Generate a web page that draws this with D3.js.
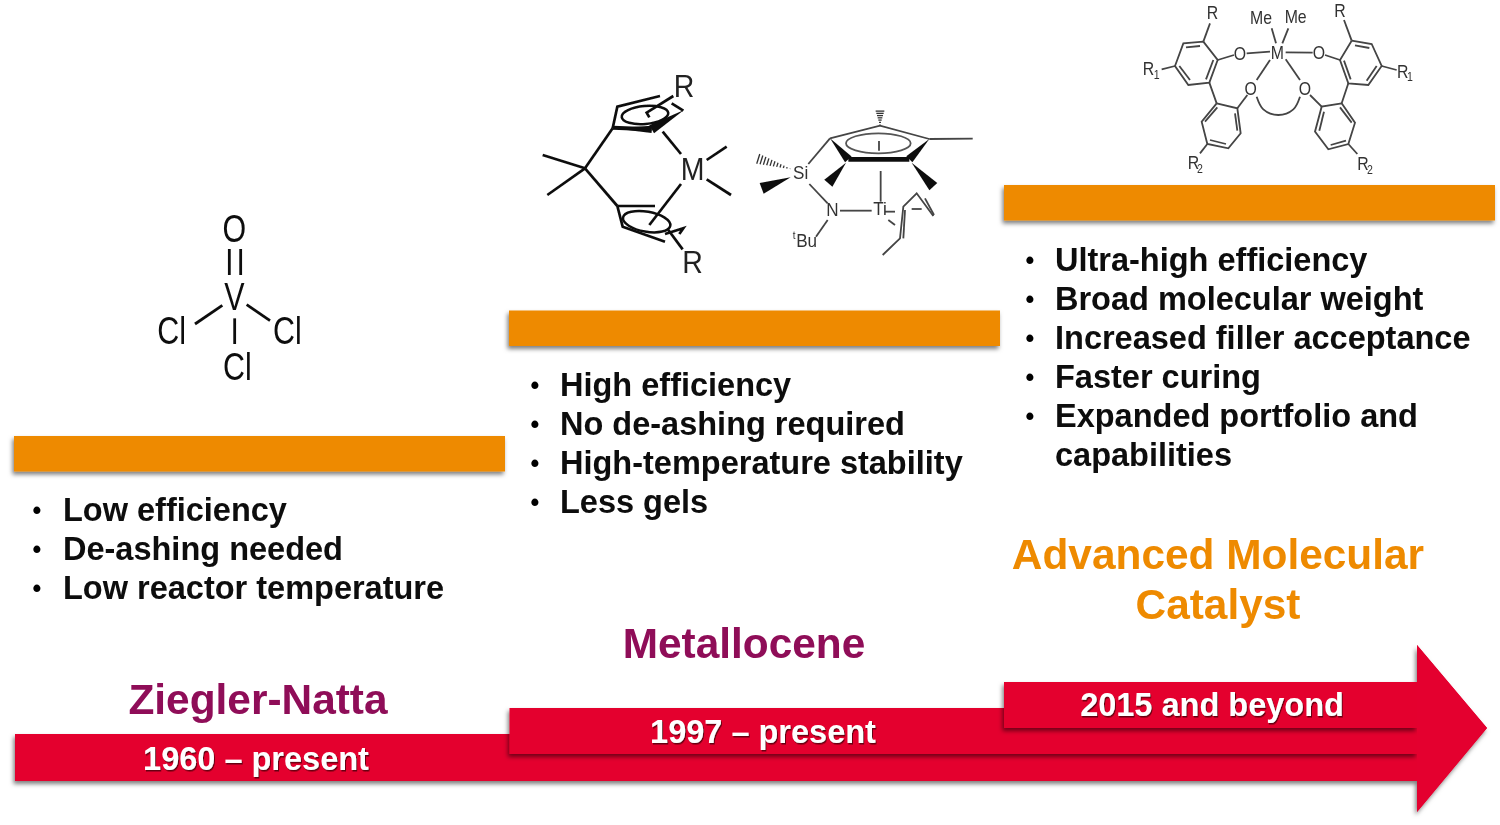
<!doctype html>
<html lang="en">
<head>
<meta charset="utf-8">
<title>Catalyst timeline</title>
<style>
  html, body { margin: 0; padding: 0; background: #fff; }
  svg { display: block; font-family: "Liberation Sans", Arial, sans-serif; }
</style>
</head>
<body>
<svg id="chart"></svg>
<script src="https://d3js.org/d3.v7.min.js"></script>
<script>
var width = 1500;
var height = 825;

// timeline content
var eraNames = [["Ziegler-Natta"], ["Metallocene"], ["Advanced Molecular", "Catalyst"]];
var eraYears = ["1960 – present", "1997 – present", "2015 and beyond"];
var eraPoints = [
  ["Low efficiency", "De-ashing needed", "Low reactor temperature"],
  ["High efficiency", "No de-ashing required", "High-temperature stability", "Less gels"],
  ["Ultra-high efficiency", "Broad molecular weight", "Increased filler acceptance", "Faster curing", ["Expanded portfolio and", "capabilities"]]
];

var svg = d3.select("#chart").attr("width", width).attr("height", height);
var defs = svg.append("defs");

function shadow(id, dx, dy, blur, op) {
  var f = defs.append("filter").attr("id", id)
    .attr("x", "-5%").attr("y", "-30%").attr("width", "110%").attr("height", "170%");
  f.append("feDropShadow").attr("dx", dx).attr("dy", dy)
    .attr("stdDeviation", blur).attr("flood-color", "#000").attr("flood-opacity", op);
}
shadow("barShadow", -1.5, 3, 2.2, 0.5);
shadow("ribbonShadow", -1.5, 3, 2.2, 0.5);
defs.append("filter").attr("id", "textShadow")
  .attr("x", "-5%").attr("y", "-20%").attr("width", "110%").attr("height", "150%")
  .append("feDropShadow").attr("dx", 1).attr("dy", 1.5).attr("stdDeviation", 0.7)
  .attr("flood-color", "#5a0010").attr("flood-opacity", 0.9);
defs.append("filter").attr("id", "soft")
  .append("feGaussianBlur").attr("stdDeviation", 0.45);

var eraIndex = d3.range(3);

// step positions, all of them linear in the era number
var barX = d3.scaleLinear().domain([0, 2]).range([14, 1004]);
var barY = d3.scaleLinear().domain([0, 2]).range([436, 185]);
var ribbonX = d3.scaleLinear().domain([0, 2]).range([15, 1004]);
var ribbonY = d3.scaleLinear().domain([0, 2]).range([734, 682]);
var textY = d3.scaleLinear().domain([0, 2]).range([520.5, 270.5]);
var textX = [63, 560, 1055];
var dotX = [37, 535, 1030];
var barW = 491, barH = 35.5, ribbonH = 47;
var arrowX = 1417, arrowTip = 1487, arrowTop = 645, arrowBottom = 812;
var lineStep = 39;

// red stepped arrow
var red = "#e4002f";
var arrowLine = d3.line();
var baseTop = ribbonY(0), baseBottom = baseTop + ribbonH;
svg.append("path")
  .attr("d", arrowLine([
    [ribbonX(0), baseTop], [arrowX, baseTop], [arrowX, arrowTop], [arrowTip, ribbonY(2) + ribbonH - 1],
    [arrowX, arrowBottom], [arrowX, baseBottom], [ribbonX(0), baseBottom]
  ]) + "Z")
  .attr("fill", red)
  .attr("filter", "url(#ribbonShadow)");

svg.selectAll("rect.step").data([1, 2]).enter().append("rect")
  .attr("class", "step")
  .attr("x", function(d) { return ribbonX(d); })
  .attr("y", function(d) { return ribbonY(d); })
  .attr("width", function(d) { return arrowX - ribbonX(d); })
  .attr("height", ribbonH - 1)
  .attr("fill", red)
  .attr("filter", "url(#ribbonShadow)");

// arrow head on top so the step shadows stop at its base
svg.append("path")
  .attr("d", arrowLine([[arrowX, arrowTop], [arrowTip, ribbonY(2) + ribbonH - 1], [arrowX, arrowBottom]]) + "Z")
  .attr("fill", red);

// orange bars
svg.selectAll("rect.bar").data(eraIndex).enter().append("rect")
  .attr("class", "bar")
  .attr("x", function(d) { return barX(d); })
  .attr("y", function(d) { return barY(d); })
  .attr("width", barW)
  .attr("height", barH)
  .attr("fill", "#ee8a03")
  .attr("filter", "url(#barShadow)");

// bullet lists
var content = svg.append("g").attr("filter", "url(#soft)");
eraIndex.forEach(function(i) {
  var row = 0;
  eraPoints[i].forEach(function(p) {
    var lines = typeof p === "string" ? [p] : p;
    content.append("text")
      .attr("x", dotX[i]).attr("y", textY(i) + row * lineStep - 2)
      .attr("text-anchor", "middle")
      .attr("font-size", 25).attr("font-weight", "bold").attr("fill", "#000")
      .text("•");
    lines.forEach(function(t) {
      content.append("text")
        .attr("x", textX[i]).attr("y", textY(i) + row * lineStep)
        .attr("font-size", 32.5).attr("font-weight", "bold").attr("fill", "#0a0a0a")
        .text(t);
      row++;
    });
  });
});

// era names and years
var nameColor = ["#8f0b58", "#8f0b58", "#ee8a03"];
var nameX = [258, 744, 1218];
var nameY = [714, 658, 569];
var yearX = [256, 763, 1212];
var yearY = [770, 743, 716];
eraIndex.forEach(function(i) {
  eraNames[i].forEach(function(t, k) {
    content.append("text")
      .attr("x", nameX[i]).attr("y", nameY[i] + k * 50)
      .attr("text-anchor", "middle")
      .attr("font-size", 42.4).attr("font-weight", "bold")
      .attr("fill", nameColor[i])
      .text(t);
  });
});
svg.selectAll("text.year").data(eraYears).enter().append("text")
  .attr("class", "year")
  .attr("x", function(d, i) { return yearX[i]; })
  .attr("y", function(d, i) { return yearY[i]; })
  .attr("text-anchor", "middle")
  .attr("font-size", 32.5).attr("font-weight", "bold")
  .attr("fill", "#fff")
  .attr("filter", "url(#textShadow)")
  .text(function(d) { return d; });

// structure drawings: each one has its own scale from drawing units to the page
function structure(x0, y0) {
  var sx = d3.scaleLinear().domain([0, 3]).range([x0, x0 + 1]);
  var sy = d3.scaleLinear().domain([0, 3]).range([y0, y0 + 1]);
  var g = content.append("g");
  var pen = d3.line().x(function(p) { return sx(p[0]); }).y(function(p) { return sy(p[1]); });
  return {
    lines: function(list, color, w) {
      g.selectAll(null).data(list).enter().append("path")
        .attr("d", pen).attr("fill", "none")
        .attr("stroke", color).attr("stroke-width", w);
    },
    wedges: function(list, color) {
      // from a point to a base, given as [x1, y1, x2, y2, half width]
      g.selectAll(null).data(list).enter().append("path")
        .attr("d", function(d) {
          var dx = d[2] - d[0], dy = d[3] - d[1], len = Math.hypot(dx, dy);
          var nx = -dy / len * d[4], ny = dx / len * d[4];
          return pen([[d[0], d[1]], [d[2] + nx, d[3] + ny], [d[2] - nx, d[3] - ny]]) + "Z";
        })
        .attr("fill", color);
    },
    hash: function(list, color) {
      list.forEach(function(d) {
        var dx = d[2] - d[0], dy = d[3] - d[1], len = Math.hypot(dx, dy);
        var nx = -dy / len, ny = dx / len;
        d3.range(d[5]).forEach(function(k) {
          var t = (k + 0.5) / d[5], w = d[4] * t;
          var cx = d[0] + dx * t, cy = d[1] + dy * t;
          g.append("path")
            .attr("d", pen([[cx + nx * w, cy + ny * w], [cx - nx * w, cy - ny * w]]))
            .attr("stroke", color).attr("stroke-width", 1.3);
        });
      });
    },
    rings: function(list, color, w) {
      g.selectAll(null).data(list).enter().append("ellipse")
        .attr("cx", function(d) { return sx(d[0]); })
        .attr("cy", function(d) { return sy(d[1]); })
        .attr("rx", function(d) { return d[2] / 3; })
        .attr("ry", function(d) { return d[3] / 3; })
        .attr("transform", function(d) { return "rotate(" + d[4] + " " + sx(d[0]) + " " + sy(d[1]) + ")"; })
        .attr("fill", "none").attr("stroke", color).attr("stroke-width", w);
    },
    labels: function(list, color, size, squeeze) {
      g.selectAll(null).data(list).enter().append("text")
        .attr("transform", function(d) {
          return "translate(" + sx(d[1]) + "," + sy(d[2]) + ") scale(" + squeeze + ",1)";
        })
        .attr("text-anchor", "middle")
        .attr("font-size", function(d) { return d[3] || size; })
        .attr("fill", color)
        .text(function(d) { return d[0]; });
    }
  };
}

// vanadium oxychloride
var voc = structure(140, 200);
voc.lines([
  [[268, 147], [268, 225]], [[302, 147], [302, 225]],
  [[247, 316], [165, 372]], [[320, 314], [390, 362]], [[284, 355], [284, 432]]
], "#111", 2.8);
voc.labels([["O", 283, 125], ["V", 283, 330], ["Cl", 95, 433], ["Cl", 442, 433], ["Cl", 292, 540]], "#111", 38, 0.8);

// metallocene, left
var cp = structure(530, 60);
cp.lines([
  [[165, 325], [38, 285]], [[165, 325], [52, 405]], [[165, 325], [248, 205]], [[165, 325], [262, 438]],
  [[248, 205], [262, 140], [390, 108]],
  [[460, 152], [425, 130]], [[358, 172], [350, 158], [430, 108]],
  [[398, 215], [453, 282]], [[530, 300], [590, 260]], [[530, 358], [603, 405]],
  [[453, 372], [358, 495]], [[262, 438], [375, 438]], [[262, 438], [278, 500], [405, 545]],
  [[405, 522], [460, 505], [448, 522]], [[415, 510], [458, 568]]
], "#111", 2.7);
cp.wedges([[462, 150, 365, 208, 14], [248, 205, 365, 208, 11]], "#111");
cp.lines([[[248, 203], [365, 208]]], "#111", 4);
cp.rings([[345, 165, 70, 27, -5], [350, 485, 72, 30, 10]], "#111", 2.5);
cp.labels([["R", 462, 110], ["M", 488, 360], ["R", 488, 640]], "#222", 31, 0.92);

// constrained geometry, right
var cg = structure(530, 60);
cg.lines([
  [[900, 235], [1050, 197], [1198, 237]], [[1198, 237], [1328, 236]], [[1047, 243], [1047, 272]],
  [[900, 235], [835, 312]], [[838, 372], [893, 430]], [[930, 452], [1025, 452]],
  [[1052, 333], [1052, 425]], [[893, 480], [858, 530]], [[1065, 455], [1095, 455]], [[1075, 480], [1095, 495]],
  [[1058, 585], [1110, 535], [1120, 440], [1160, 400], [1210, 468]],
  [[1125, 450], [1120, 535]], [[1185, 415], [1212, 465]], [[1145, 447], [1175, 447]]
], "#444", 1.8);
cg.lines([[[955, 298], [1138, 298]]], "#111", 4.6);
cg.wedges([
  [900, 235, 955, 298, 13], [1198, 237, 1138, 298, 13],
  [948, 308, 895, 370, 16], [1145, 308, 1210, 380, 16],
  [782, 352, 695, 385, 17]
], "#111");
cg.hash([[1050, 197, 1050, 150, 14, 7], [785, 328, 680, 295, 16, 11]], "#333");
cg.rings([[1045, 250, 97, 30, 0]], "#555", 1.8);
cg.labels([
  ["Si", 812, 358], ["N", 907, 468], ["Ti", 1050, 464], ["Bu", 830, 562], ["t", 792, 536, 11]
], "#333", 19, 0.9);

// advanced molecular catalyst
var amc = structure(1120, 0);
amc.lines([
  [[250, 125], [190, 130], [165, 198], [205, 255], [268, 248], [293, 180], [250, 125]],
  [[240, 138], [198, 142]], [[178, 198], [210, 240]], [[258, 238], [280, 180]],
  [[250, 125], [270, 70]], [[165, 198], [125, 208]], [[293, 180], [342, 165]], [[380, 160], [450, 155]],
  [[268, 248], [290, 310]],
  [[290, 310], [352, 325], [362, 400], [325, 445], [262, 432], [245, 365], [290, 310]],
  [[345, 340], [352, 392]], [[318, 432], [270, 420]], [[255, 365], [292, 322]],
  [[352, 325], [382, 285]], [[262, 432], [240, 460]],
  [[450, 180], [410, 240]], [[468, 130], [455, 85]], [[487, 130], [505, 85]],
  [[497, 178], [540, 240]], [[497, 157], [578, 158]],
  [[695, 122], [755, 132], [785, 198], [745, 255], [685, 250], [660, 180], [695, 122]],
  [[705, 136], [748, 144]], [[770, 198], [740, 242]], [[692, 238], [672, 182]],
  [[695, 122], [672, 60]], [[785, 198], [830, 210]], [[660, 180], [615, 165]],
  [[685, 250], [665, 310]],
  [[665, 310], [605, 320], [585, 395], [625, 448], [685, 432], [705, 368], [665, 310]],
  [[612, 335], [598, 392]], [[632, 435], [678, 422]], [[695, 368], [660, 322]],
  [[605, 320], [570, 285]], [[685, 432], [712, 462]]
], "#444", 1.8);
var arc = d3.line().curve(d3.curveCatmullRom)
  .x(function(p) { return 1120 + p[0] / 3; }).y(function(p) { return p[1] / 3; });
content.append("path")
  .attr("d", arc([[410, 290], [430, 328], [475, 345], [520, 328], [540, 290]]))
  .attr("fill", "none").attr("stroke", "#444").attr("stroke-width", 1.8);
amc.labels([
  ["R", 277, 56], ["Me", 423, 72], ["Me", 527, 70], ["R", 660, 50],
  ["O", 360, 179], ["M", 472, 177], ["O", 597, 177],
  ["R", 85, 226], ["R", 848, 233], ["O", 392, 284], ["O", 555, 284],
  ["R", 220, 508], ["R", 729, 510],
  ["1", 110, 237, 12], ["1", 870, 242, 12], ["2", 240, 520, 12], ["2", 750, 522, 12]
], "#333", 18, 0.88);
</script>
</body>
</html>
